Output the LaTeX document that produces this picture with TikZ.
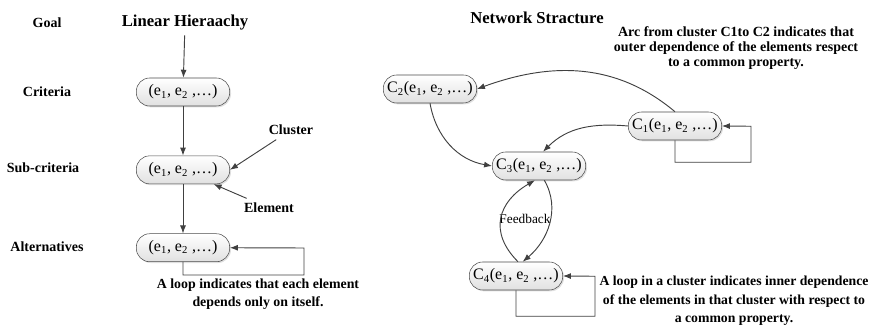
\documentclass[tikz,border=0pt]{standalone}
\usepackage{fontspec}
\setmainfont{Liberation Serif}
\usetikzlibrary{arrows.meta,shadows,positioning}

\begin{document}
\begin{tikzpicture}[x=0.75pt,y=0.75pt,
  node distance=37pt and 37pt,
  clusternode/.style={draw=black!70,rounded corners=10pt,minimum width=70pt,minimum height=21pt,inner sep=1pt,
    top color=white,bottom color=black!12,drop shadow={shadow xshift=1pt,shadow yshift=-1pt,opacity=0.25},
    font=\fontsize{12}{14}\selectfont},
  levellabel/.style={font=\fontsize{10.5}{12}\selectfont\bfseries},
  titlelabel/.style={font=\fontsize{12.5}{14}\selectfont\bfseries},
  notelabel/.style={align=center,font=\fontsize{10.5}{11.5}\selectfont\bfseries},
  link/.style={draw=black!75,line width=0.7pt,-{Latex[length=6pt,width=4.5pt]}}
]
\useasboundingbox (0,0) rectangle (869,325);
% linear hierarchy
\node[levellabel] (goal) at (47,302) {Goal};
\node[levellabel] (crit) at (47,233) {Criteria};
\node[levellabel] (subcrit) at (43,157) {Sub-criteria};
\node[levellabel] (alts) at (47,78) {Alternatives};
\node[titlelabel] (lintitle) at (185,302) {Linear Hieraachy};
\node[clusternode] (l1) at (183,233) {(e\textsubscript{1}, e\textsubscript{2} ,\ldots)};
\node[clusternode, below=of l1] (l2) {(e\textsubscript{1}, e\textsubscript{2} ,\ldots)};
\node[clusternode, below=of l2] (l3) {(e\textsubscript{1}, e\textsubscript{2} ,\ldots)};
\node[notelabel] (clusterlbl) at (291,195) {Cluster};
\node[notelabel] (elemlbl) at (269,117) {Element};
\node[notelabel,font=\fontsize{10.4}{13.5}\selectfont\bfseries] (loopnote) at (258,31) {A loop indicates that each element\\depends only on itself.};
\path (lintitle) edge[link] (l1)
(l1) edge[link] (l2)
(l2) edge[link] (l3)
(clusterlbl) edge[link] (l2.east)
(elemlbl) edge[link] (l2.-25)
;
\draw[link] (l3.south) -- ++(0,-13) -| ++(121,27) -- (l3.east);
% network structure
\node[titlelabel] (nettitle) at (537,307) {Network Stracture};
\node[notelabel] (arcnote) at (736,277) {Arc from cluster C1to C2 indicates that\\outer dependence of the elements respect\\to a common property.};
\node[clusternode] (c2) at (430,236) {C\textsubscript{2}(e\textsubscript{1}, e\textsubscript{2} ,\ldots)};
\node[clusternode] (c1) at (675,199) {C\textsubscript{1}(e\textsubscript{1}, e\textsubscript{2} ,\ldots)};
\node[clusternode] (c3) at (539,159) {C\textsubscript{3}(e\textsubscript{1}, e\textsubscript{2} ,\ldots)};
\node[clusternode] (c4) at (516,49) {C\textsubscript{4}(e\textsubscript{1}, e\textsubscript{2} ,\ldots)};
\node[font=\fontsize{10}{12}\selectfont] (fb) at (525,106) {Feedback};
\node[notelabel,font=\fontsize{10.3}{14}\selectfont\bfseries] (innernote) at (734,24) {A loop in a cluster indicates inner dependence\\of the elements in that cluster with respect to\\a common property.};
\path (c1.north) edge[link,out=140,in=20] (c2.east)
(c1.west) edge[link,out=175,in=45] ([xshift=3pt]c3.north)
(c2.south) edge[link,out=-80,in=170] (c3.west)
([xshift=1.5pt]c4.north) edge[link,out=135,in=210,looseness=1.3] ([xshift=-3pt]c3.south)
([xshift=4pt]c3.south) edge[link,out=-60,in=40] ([xshift=5pt]c4.north)
;
\draw[link] (c1.south) -- ++(0,-22) -| ++(76,36) -- (c1.east);
\draw[link] (c4.south) -- ++(0,-26) -| ++(79,40) -- (c4.east);
\end{tikzpicture}
\end{document}
